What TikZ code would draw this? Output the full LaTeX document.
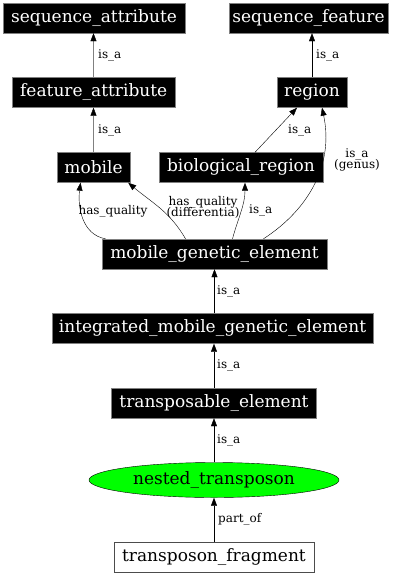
\documentclass[tikz,border=0pt]{standalone}
\usepackage{fontspec}
\setmainfont{DejaVu Serif}
\usetikzlibrary{arrows.meta,shapes.geometric}
\begin{document}
\begin{tikzpicture}[x=1pt,y=-1pt,
  term/.style={draw=gray,fill=black,text=white,inner sep=0pt,minimum height=30pt,font=\fontsize{17}{19}\selectfont},
  leaf/.style={draw=black!70,fill=white,inner sep=0pt,minimum height=30pt,font=\fontsize{17}{19}\selectfont},
  focus/.style={ellipse,draw=black,fill=green,inner sep=0pt,minimum height=35pt,font=\fontsize{17}{19}\selectfont},
  edge/.style={draw=black,-{Triangle[length=8pt,width=6pt,color=black]}},
  grayedge/.style={draw=gray,-{Triangle[length=8pt,width=6pt,color=black]}},
  lbl/.style={font=\fontsize{12}{11.5}\selectfont,inner sep=0pt,align=center}]
\useasboundingbox (0,0) rectangle (400,576);
\node[term,minimum width=182pt] (sa) at (94,18) {sequence\_attribute};
\node[term,minimum width=159pt] (sf) at (308.5,18) {sequence\_feature};
\node[term,minimum width=163pt] (fa) at (93.7,92.5) {feature\_attribute};
\node[term,minimum width=70pt] (rg) at (312,92.5) {region};
\node[term,minimum width=73pt] (mo) at (93.5,167.5) {mobile};
\node[term,minimum width=164pt] (br) at (241,167.5) {biological\_region};
\node[term,minimum width=225pt] (mge) at (214.5,254) {mobile\_genetic\_element};
\node[term,minimum width=321pt] (ime) at (212.5,328.5) {integrated\_mobile\_genetic\_element};
\node[term,minimum width=205pt] (te) at (214,403) {transposable\_element};
\node[focus,minimum width=250pt] (nt) at (214,480) {nested\_transposon};
\node[leaf,minimum width=200pt] (tf) at (214,557) {transposon\_fragment};
% edges
\draw[grayedge] (fa.north -| mo.north) -- (sa.south -| mo.north);
\draw[grayedge] (mo.north) -- (mo.north |- fa.south);
\draw[edge] (rg.north) -- (rg.north |- sf.south);
\draw[edge] ([xshift=14pt]br.north) -- ([xshift=-15pt]rg.south);
\draw[edge] ([xshift=49pt]mge.north) to[out=33,in=-78] ([xshift=10pt]rg.south);
\draw[edge] ([xshift=-109pt]mge.north) to[out=170,in=-97] ([xshift=-13pt]mo.south);
\draw[edge] ([xshift=-29pt]mge.north) to[out=120,in=-40] ([xshift=-2pt]mo.south east);
\draw[edge] ([xshift=18pt]mge.north) to[out=75,in=-90] ([xshift=4pt]br.south);
\draw[edge] (ime.north -| mge.south) -- (mge.south);
\draw[edge] (te.north) -- (te.north |- ime.south);
\draw[edge] (nt.north) -- (te.south);
\draw[edge] (tf.north) -- (nt.south);
% labels
\node[lbl,anchor=west] (l1) at (98,55) {is\_a};
\node[lbl,anchor=west] (l2) at (98,130) {is\_a};
\node[lbl,anchor=west] (l3) at (316,55) {is\_a};
\node[lbl,anchor=west] (l4) at (288,130) {is\_a};
\node[lbl] (l5) at (357,160) {is\_a\\[-2pt](genus)};
\node[lbl] (l6) at (113,211) {has\_quality};
\node[lbl] (l7) at (203,207) {has\_quality\\[-2pt](differentia)};
\node[lbl,anchor=west] (l8) at (249,210) {is\_a};
\node[lbl,anchor=west] (l9) at (217,291) {is\_a};
\node[lbl,anchor=west] (l10) at (217,365) {is\_a};
\node[lbl,anchor=west] (l11) at (217,440) {is\_a};
\node[lbl,anchor=west] (l12) at (218,519) {part\_of};
\end{tikzpicture}
\end{document}
